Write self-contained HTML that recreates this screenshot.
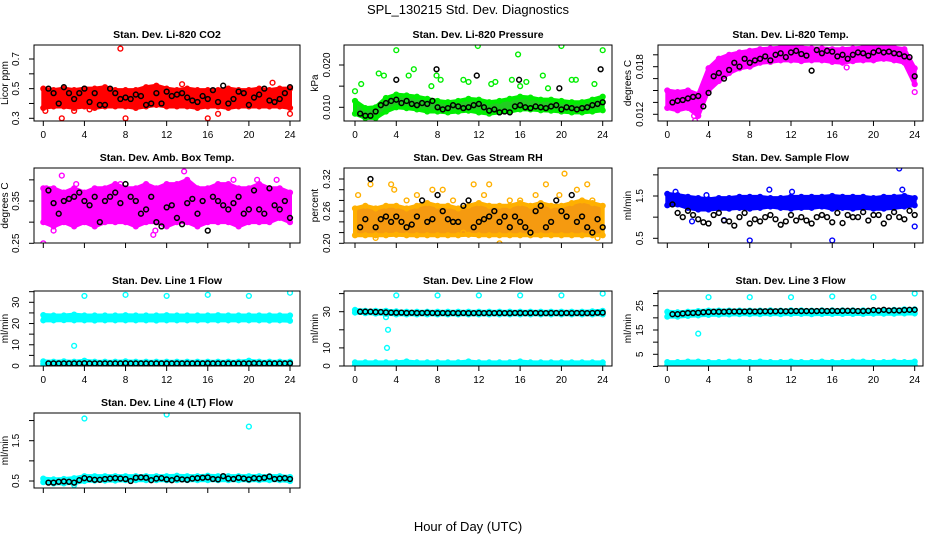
<!DOCTYPE html>
<html><head><meta charset="utf-8"><style>
body{margin:0;background:#fff;}
svg{display:block;font-family:"Liberation Sans",sans-serif;}
</style></head><body>
<svg id="chart" width="936" height="540" viewBox="0 0 936 540">
<text x="468" y="14" text-anchor="middle" font-size="13">SPL_130215  Std. Dev. Diagnostics</text>
<text x="468" y="531" text-anchor="middle" font-size="13">Hour of Day (UTC)</text>
</svg>
<script>
// ---- data (hourly band extents, half-hourly black means, outliers) ----
const hours = [0,4,8,12,16,20,24];
const co2Lo = [0.37,0.38,0.38,0.37,0.38,0.37,0.38,0.38,0.38,0.37,0.38,0.39,0.38,0.38,0.38,0.37,0.38,0.38,0.37,0.38,0.38,0.38,0.38,0.38,0.37];
const co2Hi = [0.50,0.49,0.50,0.49,0.50,0.50,0.51,0.49,0.49,0.49,0.51,0.52,0.50,0.49,0.50,0.49,0.49,0.49,0.50,0.49,0.49,0.50,0.49,0.50,0.50];
const co2Black = [0.50,0.47,0.40,0.51,0.47,0.43,0.47,0.50,0.41,0.47,0.39,0.39,0.50,0.47,0.43,0.44,0.43,0.46,0.45,0.39,0.40,0.47,0.40,0.48,0.45,0.46,0.47,0.44,0.42,0.41,0.45,0.43,0.49,0.41,0.52,0.40,0.43,0.48,0.47,0.39,0.44,0.46,0.50,0.42,0.41,0.43,0.47,0.51];
const co2OutX = [7.5,1.8,8,16,22.3,24,0.2,3,13.5,17,4.5];
const co2OutY = [0.77,0.30,0.30,0.30,0.54,0.33,0.35,0.35,0.53,0.33,0.36];

const presLo = [0.0085,0.0075,0.0075,0.0090,0.0100,0.0098,0.0095,0.0090,0.0090,0.0088,0.0090,0.0092,0.0088,0.0085,0.0088,0.0090,0.0095,0.0095,0.0093,0.0092,0.0090,0.0088,0.0088,0.0090,0.0093];
const presHi = [0.0115,0.0098,0.0100,0.0122,0.0130,0.0128,0.0125,0.0120,0.0115,0.0112,0.0115,0.0120,0.0118,0.0112,0.0115,0.0120,0.0125,0.0123,0.0118,0.0118,0.0115,0.0112,0.0112,0.0118,0.0125];
const presBlack = [0.0085,0.0080,0.0080,0.0090,0.0105,0.0110,0.0115,0.0118,0.0110,0.0115,0.0108,0.0105,0.0110,0.0108,0.0115,0.0100,0.0095,0.0098,0.0105,0.0102,0.0098,0.0100,0.0105,0.0108,0.0100,0.0092,0.0095,0.0088,0.0090,0.0088,0.0102,0.0105,0.0100,0.0098,0.0102,0.0100,0.0098,0.0102,0.0105,0.0095,0.0100,0.0098,0.0095,0.0098,0.0100,0.0105,0.0108,0.0112];
const presOutX = [0,0.6,2.3,2.8,4,5.2,5.7,7.4,7.9,8.3,10.5,11,11.9,13.2,13.6,15.8,15.2,16,16.6,18.2,18.7,20,21,21.4,23.2,24];
const presOutY = [0.0138,0.0155,0.0180,0.0175,0.0235,0.0175,0.0190,0.0150,0.0175,0.0165,0.0165,0.0160,0.0245,0.0155,0.0160,0.0225,0.0165,0.0150,0.0160,0.0175,0.0145,0.0245,0.0165,0.0165,0.0155,0.0235];
const presBlkOutX = [4,7.9,11.8,15.9,19.8,23.8];
const presBlkOutY = [0.0165,0.0190,0.0175,0.0165,0.0145,0.0190];

const tempLo = [0.0128,0.0125,0.0128,0.0118,0.0150,0.0162,0.0172,0.0178,0.0180,0.0185,0.0186,0.0188,0.0188,0.0187,0.0188,0.0188,0.0186,0.0185,0.0187,0.0188,0.0188,0.0190,0.0188,0.0185,0.0158];
const tempHi = [0.0150,0.0148,0.0150,0.0145,0.0178,0.0190,0.0195,0.0198,0.0200,0.0202,0.0203,0.0204,0.0205,0.0204,0.0203,0.0203,0.0202,0.0202,0.0203,0.0204,0.0205,0.0206,0.0204,0.0202,0.0178];
const tempBlack = [0.0135,0.0137,0.0138,0.0140,0.0142,0.0143,0.0130,0.0147,0.0168,0.0172,0.0165,0.0176,0.0185,0.0180,0.0190,0.0185,0.0188,0.0190,0.0193,0.0188,0.0195,0.0197,0.0192,0.0198,0.0200,0.0196,0.0194,0.0175,0.0201,0.0197,0.0200,0.0199,0.0193,0.0195,0.0190,0.0195,0.0198,0.0197,0.0194,0.0198,0.0200,0.0198,0.0199,0.0197,0.0196,0.0193,0.0192,0.0168];
const tempOutX = [2.7,2.6,24,17.4,0.2];
const tempOutY = [0.0112,0.0118,0.0148,0.0179,0.0132];

const ambLo = [0.30,0.29,0.30,0.29,0.30,0.29,0.30,0.30,0.30,0.29,0.30,0.30,0.29,0.30,0.30,0.29,0.30,0.30,0.30,0.29,0.30,0.30,0.30,0.31,0.30];
const ambHi = [0.38,0.38,0.37,0.38,0.37,0.38,0.38,0.39,0.38,0.38,0.39,0.38,0.39,0.39,0.40,0.38,0.38,0.39,0.39,0.38,0.38,0.39,0.38,0.38,0.37];
const ambBlack = [0.375,0.345,0.32,0.35,0.355,0.36,0.37,0.35,0.34,0.36,0.30,0.35,0.36,0.37,0.345,0.39,0.36,0.35,0.32,0.33,0.36,0.30,0.29,0.335,0.34,0.31,0.295,0.345,0.355,0.32,0.35,0.28,0.36,0.35,0.34,0.33,0.345,0.36,0.32,0.33,0.375,0.33,0.32,0.38,0.34,0.33,0.35,0.31];
const ambOutX = [0,1.8,10.7,10.9,13.7,22.7,7.5,0.3,1,3.2,20.8,18.5];
const ambOutY = [0.25,0.41,0.27,0.28,0.42,0.40,0.39,0.38,0.28,0.39,0.40,0.40];

const rhLo = [0.215,0.215,0.215,0.215,0.216,0.215,0.215,0.215,0.215,0.215,0.215,0.216,0.215,0.215,0.215,0.215,0.215,0.215,0.215,0.215,0.215,0.215,0.215,0.215,0.215];
const rhHi = [0.265,0.27,0.265,0.27,0.27,0.265,0.27,0.275,0.27,0.27,0.265,0.27,0.275,0.27,0.27,0.27,0.275,0.27,0.275,0.27,0.27,0.275,0.28,0.275,0.27];
const rhBlack = [0.23,0.245,0.32,0.23,0.245,0.25,0.24,0.25,0.24,0.23,0.235,0.25,0.28,0.24,0.245,0.29,0.26,0.245,0.24,0.24,0.27,0.28,0.23,0.24,0.245,0.25,0.26,0.24,0.25,0.23,0.25,0.24,0.23,0.22,0.26,0.27,0.23,0.24,0.28,0.26,0.25,0.29,0.24,0.25,0.23,0.22,0.245,0.23];
const rhOutX = [1.5,3.5,5,7.5,11.5,13,15,17.5,18.5,20.3,21.5,22.5,9.5,23,0.3,3.8,6,10.5,14,23.5,2,16,19.8,12.5,8.5];
const rhOutY = [0.31,0.31,0.28,0.30,0.31,0.31,0.28,0.29,0.31,0.33,0.30,0.31,0.28,0.28,0.29,0.30,0.29,0.22,0.20,0.21,0.21,0.28,0.29,0.29,0.30];

const flowLo = [1.28,1.30,1.22,1.18,1.18,1.20,1.20,1.22,1.20,1.22,1.25,1.22,1.20,1.22,1.22,1.25,1.20,1.22,1.20,1.22,1.20,1.20,1.22,1.25,1.28];
const flowHi = [1.55,1.52,1.48,1.45,1.42,1.45,1.45,1.48,1.48,1.48,1.45,1.45,1.48,1.48,1.48,1.48,1.50,1.48,1.48,1.48,1.45,1.48,1.48,1.50,1.45];
const flowBlack = [1.30,1.10,1.00,1.15,1.05,0.95,0.88,0.85,1.05,1.10,0.92,0.90,0.80,1.00,1.10,0.85,0.95,0.90,1.00,1.05,0.95,0.82,0.90,1.05,0.92,1.00,0.92,0.85,1.00,1.05,1.00,0.88,1.10,0.86,1.05,1.00,1.00,1.12,0.92,1.05,1.05,0.85,1.00,1.12,1.00,0.95,1.15,1.05];
const flowOutX = [8,16,22.5,22.8,9.9,12.1,2.4,5.5,24,0.8,3.8];
const flowOutY = [0.45,0.45,2.15,1.65,1.65,1.60,0.90,0.93,0.78,1.60,1.52];

const l1Lo = [21.5,21.5,21.6,21.5,21.5,21.4,21.5,21.5,21.5,21.5,21.5,21.4,21.5,21.5,21.5,21.5,21.5,21.5,21.5,21.5,21.5,21.5,21.4,21.5,21.3];
const l1Hi = [24.0,23.8,23.8,24.2,23.8,23.8,23.8,23.8,23.9,23.8,23.8,23.8,23.9,23.8,23.8,23.8,23.8,23.9,23.8,23.8,23.8,23.8,23.8,23.8,23.8];
const l1Lo2 = [1.0,1.0,1.0,1.0,1.0,1.0,1.0,1.0,1.0,1.0,1.0,1.0,1.0,1.0,1.0,1.0,1.0,1.0,1.0,1.0,1.0,1.0,1.0,1.0,1.0];
const l1Hi2 = [2.2,2.0,2.2,2.0,2.5,2.0,2.0,2.0,2.2,2.0,2.0,2.0,2.0,2.0,2.0,2.0,2.0,2.0,2.0,2.0,2.5,2.0,2.0,2.0,2.0];
const l1Black = [1.2,1.2,1.2,1.2,1.2,1.2,1.2,1.3,1.2,1.2,1.2,1.2,1.2,1.2,1.2,1.3,1.2,1.2,1.2,1.2,1.2,1.2,1.2,1.2,1.2,1.2,1.2,1.2,1.2,1.2,1.2,1.3,1.2,1.2,1.2,1.2,1.2,1.2,1.2,1.2,1.3,1.2,1.2,1.2,1.2,1.2,1.2,1.3];
const l1OutX = [4,8,12,16,20,24,3];
const l1OutY = [33,33.5,33,33.5,33,34.5,9.5];

const l2Lo = [29.5,29.2,29.0,28.8,28.5,28.5,28.5,28.5,28.5,28.5,28.5,28.5,28.5,28.5,28.5,28.5,28.5,28.5,28.5,28.5,28.5,28.5,28.5,28.5,28.5];
const l2Hi = [31.0,30.5,30.5,30.5,30.2,30.0,30.0,30.0,30.0,30.0,30.0,30.0,30.0,30.0,30.0,30.0,30.0,30.0,30.0,30.0,30.0,30.0,30.0,30.2,30.5];
const l2Lo2 = [0.3,0.3,0.3,0.3,0.3,0.3,0.3,0.3,0.3,0.3,0.3,0.3,0.3,0.3,0.3,0.3,0.3,0.3,0.3,0.3,0.3,0.3,0.3,0.3,0.3];
const l2Hi2 = [2.0,2.0,2.0,2.0,2.0,2.5,2.0,2.0,2.0,2.0,2.0,2.5,2.0,2.0,2.0,2.0,2.5,2.0,2.0,2.0,2.0,2.0,2.0,2.0,2.0];
const l2Black = [30.0,30.0,30.0,29.8,29.8,29.6,29.5,29.4,29.5,29.3,29.4,29.3,29.3,29.4,29.3,29.2,29.3,29.2,29.3,29.2,29.3,29.2,29.2,29.3,29.2,29.3,29.2,29.3,29.2,29.2,29.3,29.3,29.2,29.3,29.3,29.2,29.2,29.3,29.3,29.2,29.3,29.2,29.3,29.3,29.2,29.3,29.4,29.5];
const l2OutX = [4,8,12,16,20,24,3,3.2,3.1];
const l2OutY = [39,39,39,39,39,40,27,20,10];

const l3Lo = [20.5,20.5,20.8,21.0,21.2,21.3,21.4,21.5,21.5,21.5,21.6,21.5,21.6,21.6,21.5,21.6,21.6,21.6,21.6,21.6,21.7,21.7,21.7,21.8,21.8];
const l3Hi = [22.5,22.3,22.5,22.8,23.0,23.0,23.0,23.0,23.0,23.0,23.1,23.0,23.1,23.1,23.0,23.1,23.1,23.1,23.1,23.1,23.2,23.2,23.3,23.5,23.5];
const l3Lo2 = [0.5,0.5,0.5,0.5,0.5,0.5,0.5,0.5,0.5,0.5,0.5,0.5,0.5,0.5,0.5,0.5,0.5,0.5,0.5,0.5,0.5,0.5,0.5,0.5,0.5];
const l3Hi2 = [1.8,1.8,2.0,2.0,1.8,1.8,2.0,2.0,1.8,2.0,1.8,1.8,2.0,1.8,1.8,2.0,1.8,1.8,2.0,2.0,1.8,1.8,2.0,1.8,2.0];
const l3Black = [21.5,21.5,21.8,22.0,22.0,22.1,22.3,22.4,22.5,22.5,22.5,22.6,22.6,22.6,22.6,22.7,22.6,22.7,22.7,22.7,22.7,22.8,22.7,22.8,22.8,22.8,22.8,22.8,22.8,22.9,22.8,22.9,22.8,22.9,22.9,22.9,22.8,22.8,22.9,23.2,23.0,23.3,23.0,23.1,23.0,23.2,23.3,23.3];
const l3OutX = [4,8,12,16,20,24,3];
const l3OutY = [28.5,28.5,28.5,28.8,28.5,30,13.5];

const l4Lo = [0.47,0.44,0.44,0.45,0.50,0.51,0.51,0.51,0.52,0.52,0.52,0.52,0.52,0.52,0.52,0.52,0.52,0.52,0.52,0.52,0.52,0.52,0.52,0.52,0.50];
const l4Hi = [0.56,0.54,0.55,0.57,0.62,0.62,0.62,0.62,0.62,0.62,0.62,0.62,0.62,0.63,0.62,0.62,0.63,0.62,0.62,0.62,0.62,0.62,0.62,0.62,0.60];
const l4Black = [0.46,0.46,0.48,0.49,0.48,0.46,0.52,0.57,0.55,0.53,0.53,0.55,0.56,0.57,0.56,0.55,0.50,0.58,0.59,0.58,0.52,0.56,0.57,0.54,0.52,0.56,0.54,0.53,0.56,0.57,0.58,0.59,0.55,0.54,0.62,0.56,0.55,0.58,0.56,0.54,0.57,0.56,0.58,0.61,0.55,0.56,0.57,0.55];
const l4OutX = [4,12,20,3];
const l4OutY = [2.05,2.15,1.85,0.40];

// ---- drawing ----
const svg = document.getElementById('chart');
const NS = 'http://www.w3.org/2000/svg';
function mk(tag, attrs, parent){
  const e = document.createElementNS(NS, tag);
  for (const k in attrs) e.setAttribute(k, attrs[k]);
  (parent||svg).appendChild(e);
  return e;
}
const cols = [{l:34,r:300,x0:43.3,x24:290,yl:8,tk:19},{l:344,r:612,x0:355,x24:602.7,yl:318,tk:330},{l:658,r:923,x0:667.3,x24:914.7,yl:631,tk:643}];
const rows = [{t:45,b:121,lab:true},{t:168,b:243,lab:false},{t:291,b:366,lab:true},{t:413,b:488,lab:false}];

function panel(o){
  const c = cols[o.col], r = rows[o.row];
  const g = mk('g', {});
  
  
  const X = v => c.x0 + (c.x24 - c.x0) * v / 24;
  const Y = v => o.py1 + (o.py2 - o.py1) * (v - o.v1) / (o.v2 - o.v1);
  const clip = 'clip' + o.name;
  const cp = mk('clipPath', {id: clip}, g);
  mk('rect', {x:c.l, y:r.t, width:c.r-c.l, height:r.b-r.t}, cp);
  const plot = mk('g', {'clip-path':'url(#'+clip+')'}, g);
  const bands = [[o.lo, o.hi]];
  if (o.lo2) bands.push([o.lo2, o.hi2]);
  bands.forEach(([lo, hi]) => {
    let d = '';
    hi.forEach((v,i) => { d += (i ? 'L' : 'M') + X(i) + ',' + Y(v); });
    for (let i = lo.length - 1; i >= 0; i--) d += 'L' + X(i) + ',' + Y(lo[i]);
    const p = mk('path', {d: d + 'Z', fill: o.fill, stroke: o.color, 'stroke-width': 4, 'stroke-linejoin': 'round'}, plot);
    
    
    hi.forEach((v,i) => {
      [v, lo[i]].forEach(w => {
        const e = mk('circle', {cx: X(i), cy: Y(w), r: 2.4, fill: 'none', stroke: o.color, 'stroke-width': 1.4}, plot);
        
        
      });
    });
  });
  o.outX.forEach((v,i) => {
    const e = mk('circle', {cx: X(v), cy: Y(o.outY[i]), r: 2.4, fill: 'none', stroke: o.color, 'stroke-width': 1.4}, plot);
    
    
  });
  o.black.forEach((v,i) => {
    const e = mk('circle', {cx: X(0.5*(i+1)), cy: Y(v), r: 2.4, fill: 'none', stroke: '#000', 'stroke-width': 1.5}, plot);
    
    
  });
  (o.bOutX||[]).forEach((v,i) => {
    const e = mk('circle', {cx: X(v), cy: Y(o.bOutY[i]), r: 2.4, fill: 'none', stroke: '#000', 'stroke-width': 1.5}, plot);
    
    
  });
  mk('rect', {x:c.l, y:r.t, width:c.r-c.l, height:r.b-r.t, fill:'none', stroke:'#000', 'stroke-width':1}, g);
  mk('line', {x1:X(0), x2:X(24), y1:r.b, y2:r.b, stroke:'#000'}, g);
  hours.forEach(h => {
    mk('line', {x1:X(h), x2:X(h), y1:r.b, y2:r.b+5, stroke:'#000'}, g);
    if (r.lab) {
      const t = mk('text', {x:X(h), y:r.b+17, 'text-anchor':'middle', 'font-size':10}, g);
      t.textContent = h;
      
      
    }
  });
  const tks = o.ticks;
  mk('line', {x1:c.l, x2:c.l, y1:Y(tks[0]), y2:Y(tks[tks.length-1]), stroke:'#000'}, g);
  tks.forEach(v => mk('line', {x1:c.l-5, x2:c.l, y1:Y(v), y2:Y(v), stroke:'#000'}, g));
  o.labels.forEach((s,i) => {
    const yy = Y(o.labelVals[i]);
    const t = mk('text', {x:c.tk, y:yy, 'text-anchor':'middle', 'font-size':10, transform:'rotate(-90 '+c.tk+' '+yy+')'}, g);
    t.textContent = s;
    
    
  });
  const ym = (r.t + r.b) / 2;
  const yl = mk('text', {x:c.yl, y:ym, 'text-anchor':'middle', 'font-size':10, transform:'rotate(-90 '+c.yl+' '+ym+')'}, g);
  yl.textContent = o.ylab;
  
  
  const tt = mk('text', {x:(c.l+c.r)/2, y:r.t-7, 'text-anchor':'middle', 'font-size':10.5, 'font-weight':'bold'}, g);
  tt.textContent = o.title;
  
  
}

const RED='#ff0000', GREEN='#00ee00', MAG='#ff00ff', CYAN='#00ffff', BLUE='#0000ff';
panel({name:'co2-panel',col:0,row:0,title:'Stan. Dev. Li-820 CO2',ylab:'Licor ppm',v1:0.3,py1:118.3,v2:0.7,py2:59,ticks:[0.3,0.4,0.5,0.6,0.7],labels:['0.3','0.5','0.7'],labelVals:[0.3,0.5,0.7],lo:co2Lo,hi:co2Hi,black:co2Black,outX:co2OutX,outY:co2OutY,color:RED,fill:RED});
panel({name:'pressure-panel',col:1,row:0,title:'Stan. Dev. Li-820 Pressure',ylab:'kPa',v1:0.010,py1:107.3,v2:0.020,py2:65,ticks:[0.010,0.015,0.020],labels:['0.010','0.020'],labelVals:[0.010,0.020],lo:presLo,hi:presHi,black:presBlack,outX:presOutX,outY:presOutY,bOutX:presBlkOutX,bOutY:presBlkOutY,color:GREEN,fill:'#22cc22'});
panel({name:'temp-panel',col:2,row:0,title:'Stan. Dev. Li-820 Temp.',ylab:'degrees C',v1:0.012,py1:114.3,v2:0.018,py2:66.7,ticks:[0.012,0.0135,0.015,0.0165,0.018,0.0195],labels:['0.012','0.018'],labelVals:[0.012,0.018],lo:tempLo,hi:tempHi,black:tempBlack,outX:tempOutX,outY:tempOutY,color:MAG,fill:MAG});
panel({name:'amb-box-temp-panel',col:0,row:1,title:'Stan. Dev. Amb. Box Temp.',ylab:'degrees C',v1:0.25,py1:243.3,v2:0.35,py2:201,ticks:[0.25,0.30,0.35,0.40],labels:['0.25','0.35'],labelVals:[0.25,0.35],lo:ambLo,hi:ambHi,black:ambBlack,outX:ambOutX,outY:ambOutY,color:MAG,fill:MAG});
panel({name:'gas-rh-panel',col:1,row:1,title:'Stan. Dev. Gas Stream RH',ylab:'percent',v1:0.20,py1:243.3,v2:0.32,py2:179,ticks:[0.20,0.22,0.24,0.26,0.28,0.30,0.32],labels:['0.20','0.26','0.32'],labelVals:[0.20,0.26,0.32],lo:rhLo,hi:rhHi,black:rhBlack,outX:rhOutX,outY:rhOutY,color:'#ffb000',fill:'#f59a10'});
panel({name:'sample-flow-panel',col:2,row:1,title:'Stan. Dev. Sample Flow',ylab:'ml/min',v1:0.5,py1:238.3,v2:1.5,py2:196,ticks:[0.5,1.0,1.5,2.0],labels:['0.5','1.5'],labelVals:[0.5,1.5],lo:flowLo,hi:flowHi,black:flowBlack,outX:flowOutX,outY:flowOutY,color:BLUE,fill:BLUE});
panel({name:'line1-flow-panel',col:0,row:2,title:'Stan. Dev. Line 1 Flow',ylab:'ml/min',v1:0,py1:366,v2:30,py2:302.3,ticks:[0,5,10,15,20,25,30,35],labels:['0','10','20','30'],labelVals:[0,10,20,30],lo:l1Lo,hi:l1Hi,lo2:l1Lo2,hi2:l1Hi2,black:l1Black,outX:l1OutX,outY:l1OutY,color:CYAN,fill:CYAN});
panel({name:'line2-flow-panel',col:1,row:2,title:'Stan. Dev. Line 2 Flow',ylab:'ml/min',v1:0,py1:366,v2:30,py2:311.7,ticks:[0,10,20,30,40],labels:['0','10','30'],labelVals:[0,10,30],lo:l2Lo,hi:l2Hi,lo2:l2Lo2,hi2:l2Hi2,black:l2Black,outX:l2OutX,outY:l2OutY,color:CYAN,fill:CYAN});
panel({name:'line3-flow-panel',col:2,row:2,title:'Stan. Dev. Line 3 Flow',ylab:'ml/min',v1:5,py1:354.3,v2:25,py2:305.7,ticks:[0,5,10,15,20,25,30],labels:['5','15','25'],labelVals:[5,15,25],lo:l3Lo,hi:l3Hi,lo2:l3Lo2,hi2:l3Hi2,black:l3Black,outX:l3OutX,outY:l3OutY,color:CYAN,fill:CYAN});
panel({name:'line4-flow-panel',col:0,row:3,title:'Stan. Dev. Line 4 (LT) Flow',ylab:'ml/min',v1:0.5,py1:481,v2:1.5,py2:440.7,ticks:[0.5,1.0,1.5,2.0],labels:['0.5','1.5'],labelVals:[0.5,1.5],lo:l4Lo,hi:l4Hi,black:l4Black,outX:l4OutX,outY:l4OutY,color:CYAN,fill:CYAN});
</script>
</body></html>
